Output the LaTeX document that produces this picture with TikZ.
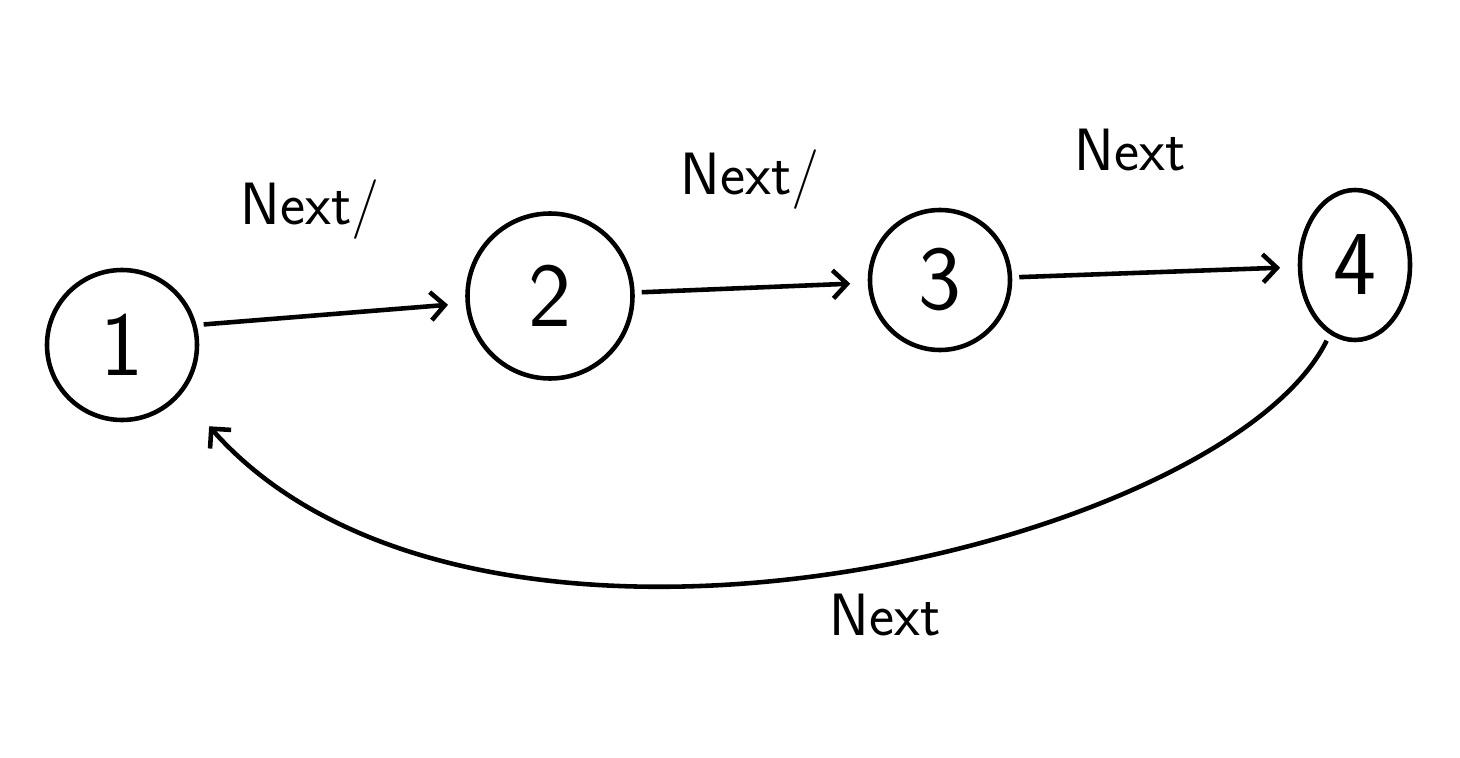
\documentclass[tikz,border=0pt]{standalone}
\usepackage{tikz}
\usetikzlibrary{positioning, calc, shapes.geometric, arrows.meta}
\tikzstyle{Arrow} = [
line width=2.6pt,
-{Straight Barb[length=8pt, width=16pt, line width=2.6pt]},
shorten >= 10pt, shorten <= 4pt]
\tikzstyle{State} = [draw, line width=2.6pt, circle, inner sep=0pt,
font=\sffamily\fontsize{52}{56}\selectfont]
\tikzstyle{Label} = [font=\sffamily\fontsize{34}{38}\selectfont]

\begin{document}
\begin{tikzpicture}
    \useasboundingbox (0,0) rectangle (29.2,15.14);
    \node [State, minimum size=3cm] (1) at (2.44,8.24) {1};
    \node [State, minimum size=3.3cm] (2) at (11.0,9.22) {2};
    \node [State, minimum size=2.8cm] (3) at (18.8,9.54) {3};
    \node [State, ellipse, minimum width=2.2cm, minimum height=3cm] (4) at (27.1,9.84) {4};
    \node [Label] (n12) at (6.2,10.94) {Next/};
    \node [Label] (n23) at (15.0,11.54) {Next/};
    \node [Label] (n34) at (22.6,12.14) {Next};
    \node [Label] (n41) at (17.7,2.84) {Next};

    \draw[Arrow] (1.15) -- (2.185);
    \draw[Arrow] (2) -- (3);
    \draw[Arrow] (3) -- (4);
    \draw[Arrow, shorten >= 24pt] (4.250) .. controls (24.5,4.2) and (9.5,0.6) .. (1.-40);
\end{tikzpicture}
\end{document}
